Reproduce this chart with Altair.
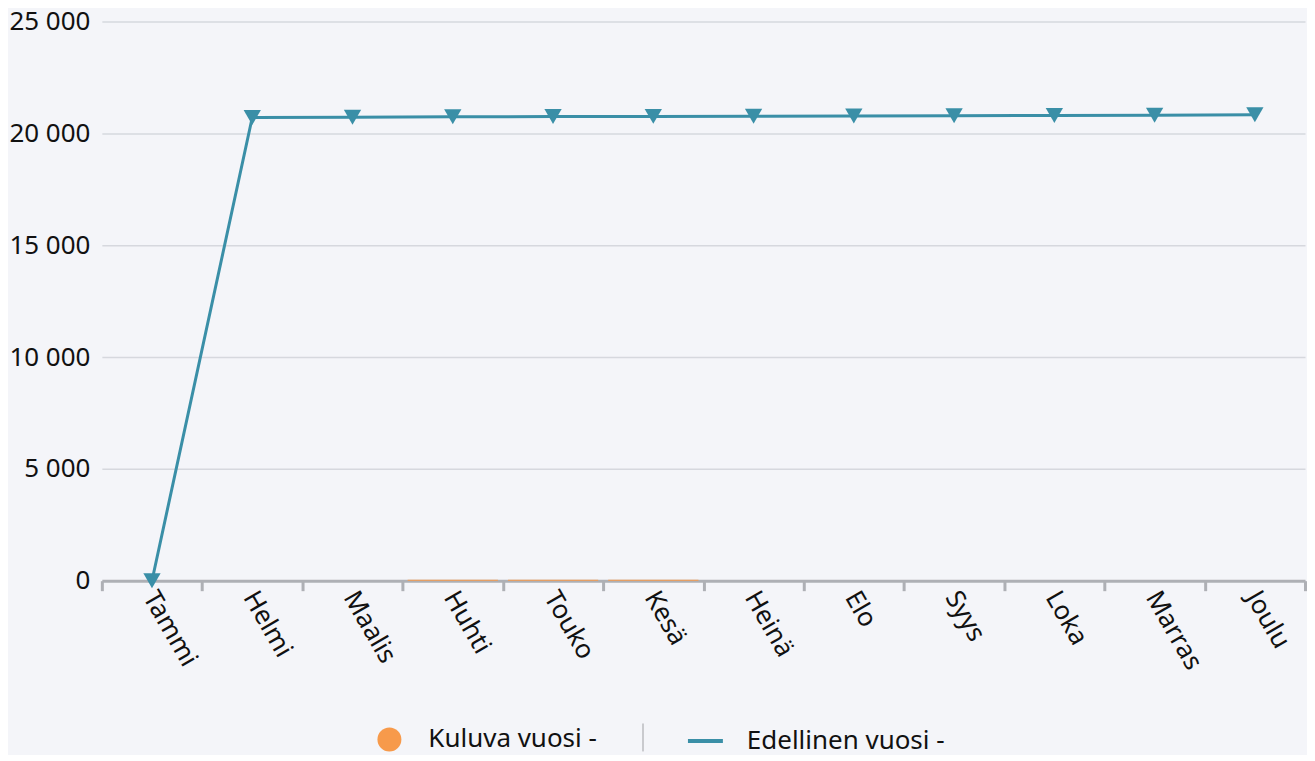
import altair as alt
import pandas as pd

months = ["Tammi", "Helmi", "Maalis", "Huhti", "Touko", "Kesä",
          "Heinä", "Elo", "Syys", "Loka", "Marras", "Joulu"]
edellinen = [0, 20710, 20720, 20740, 20750, 20760, 20770, 20780, 20790, 20800, 20810, 20830]
kuluva_months = ["Huhti", "Touko", "Kesä"]
kuluva = [40, 40, 40]
y_ticks = [0, 5000, 10000, 15000, 20000, 25000]

S_KUL = "Kuluva vuosi -"
S_EDE = "Edellinen vuosi -"
ORANGE = "#F79A4B"
TEAL = "#3A8FA7"
FONT = "Noto Sans"

line_df = pd.DataFrame({"kk": months, "arvo": edellinen, "sarja": S_EDE})
bar_df = pd.DataFrame({"kk": kuluva_months, "arvo": kuluva, "sarja": S_KUL})
sep_df = pd.DataFrame({"d": [1]})

x_enc = alt.X(
    "kk:N", sort=months,
    scale=alt.Scale(domain=months, paddingInner=0, paddingOuter=0),
    axis=alt.Axis(title=None, labelAngle=60, labelAlign="left", labelBaseline="middle",
                  labelFontSize=26, labelColor="#111111", labelFont=FONT,
                  labelPadding=2, labelOffset=-3, tickBand="extent", tickSize=10, tickWidth=3,
                  tickColor="#AEB0B5", domainColor="#AEB0B5", domainWidth=3,
                  grid=False),
)
y_enc = alt.Y(
    "arvo:Q", scale=alt.Scale(domain=[0, 25000], nice=False),
    axis=alt.Axis(title=None, values=y_ticks, domain=False, ticks=False,
                  labelPadding=12, labelFontSize=26, labelColor="#111111", labelFont=FONT,
                  labelExpr="replace(format(datum.value, ','), ',', ' ')",
                  gridColor="#D6D8DE", gridWidth=1.5),
)

bars = alt.Chart(bar_df).mark_bar(width=alt.RelativeBandSize(0.9)).encode(
    x=x_enc, y=y_enc,
    fill=alt.Fill("sarja:N", scale=alt.Scale(domain=[S_KUL], range=[ORANGE]),
                  legend=alt.Legend(title=None, orient="none", legendX=275, legendY=706,
                                    symbolType="circle", symbolSize=576, symbolStrokeWidth=0,
                                    labelFontSize=26, labelFont=FONT, labelColor="#111111",
                                    labelOffset=26, labelLimit=500, padding=0)),
)

line = alt.Chart(line_df).mark_line(strokeWidth=3).encode(
    x=x_enc, y=y_enc,
    stroke=alt.Stroke("sarja:N", scale=alt.Scale(domain=[S_EDE], range=[TEAL]),
                      legend=alt.Legend(title=None, orient="none", legendX=585, legendY=701,
                                        symbolType="stroke", symbolSize=1225, symbolStrokeWidth=4,
                                        labelFontSize=26, labelFont=FONT, labelColor="#111111",
                                        labelOffset=22, labelLimit=500, padding=0)),
)

points = alt.Chart(line_df).mark_point(shape="triangle-down", filled=True, size=300,
                                       color=TEAL, opacity=1).encode(x=x_enc, y=y_enc)

sep = alt.Chart(sep_df).mark_rule(color="#C9CACE", strokeWidth=2).encode(
    x=alt.value(542), y=alt.value(703), y2=alt.value(731))

chart = alt.layer(bars, line, points, sep).properties(
    width=1205, height=560, padding=0
).configure(
    background="#F4F5F9", font=FONT
).configure_view(stroke=None)

chart.save("out.html", embed_options={"renderer": "svg", "actions": False})
